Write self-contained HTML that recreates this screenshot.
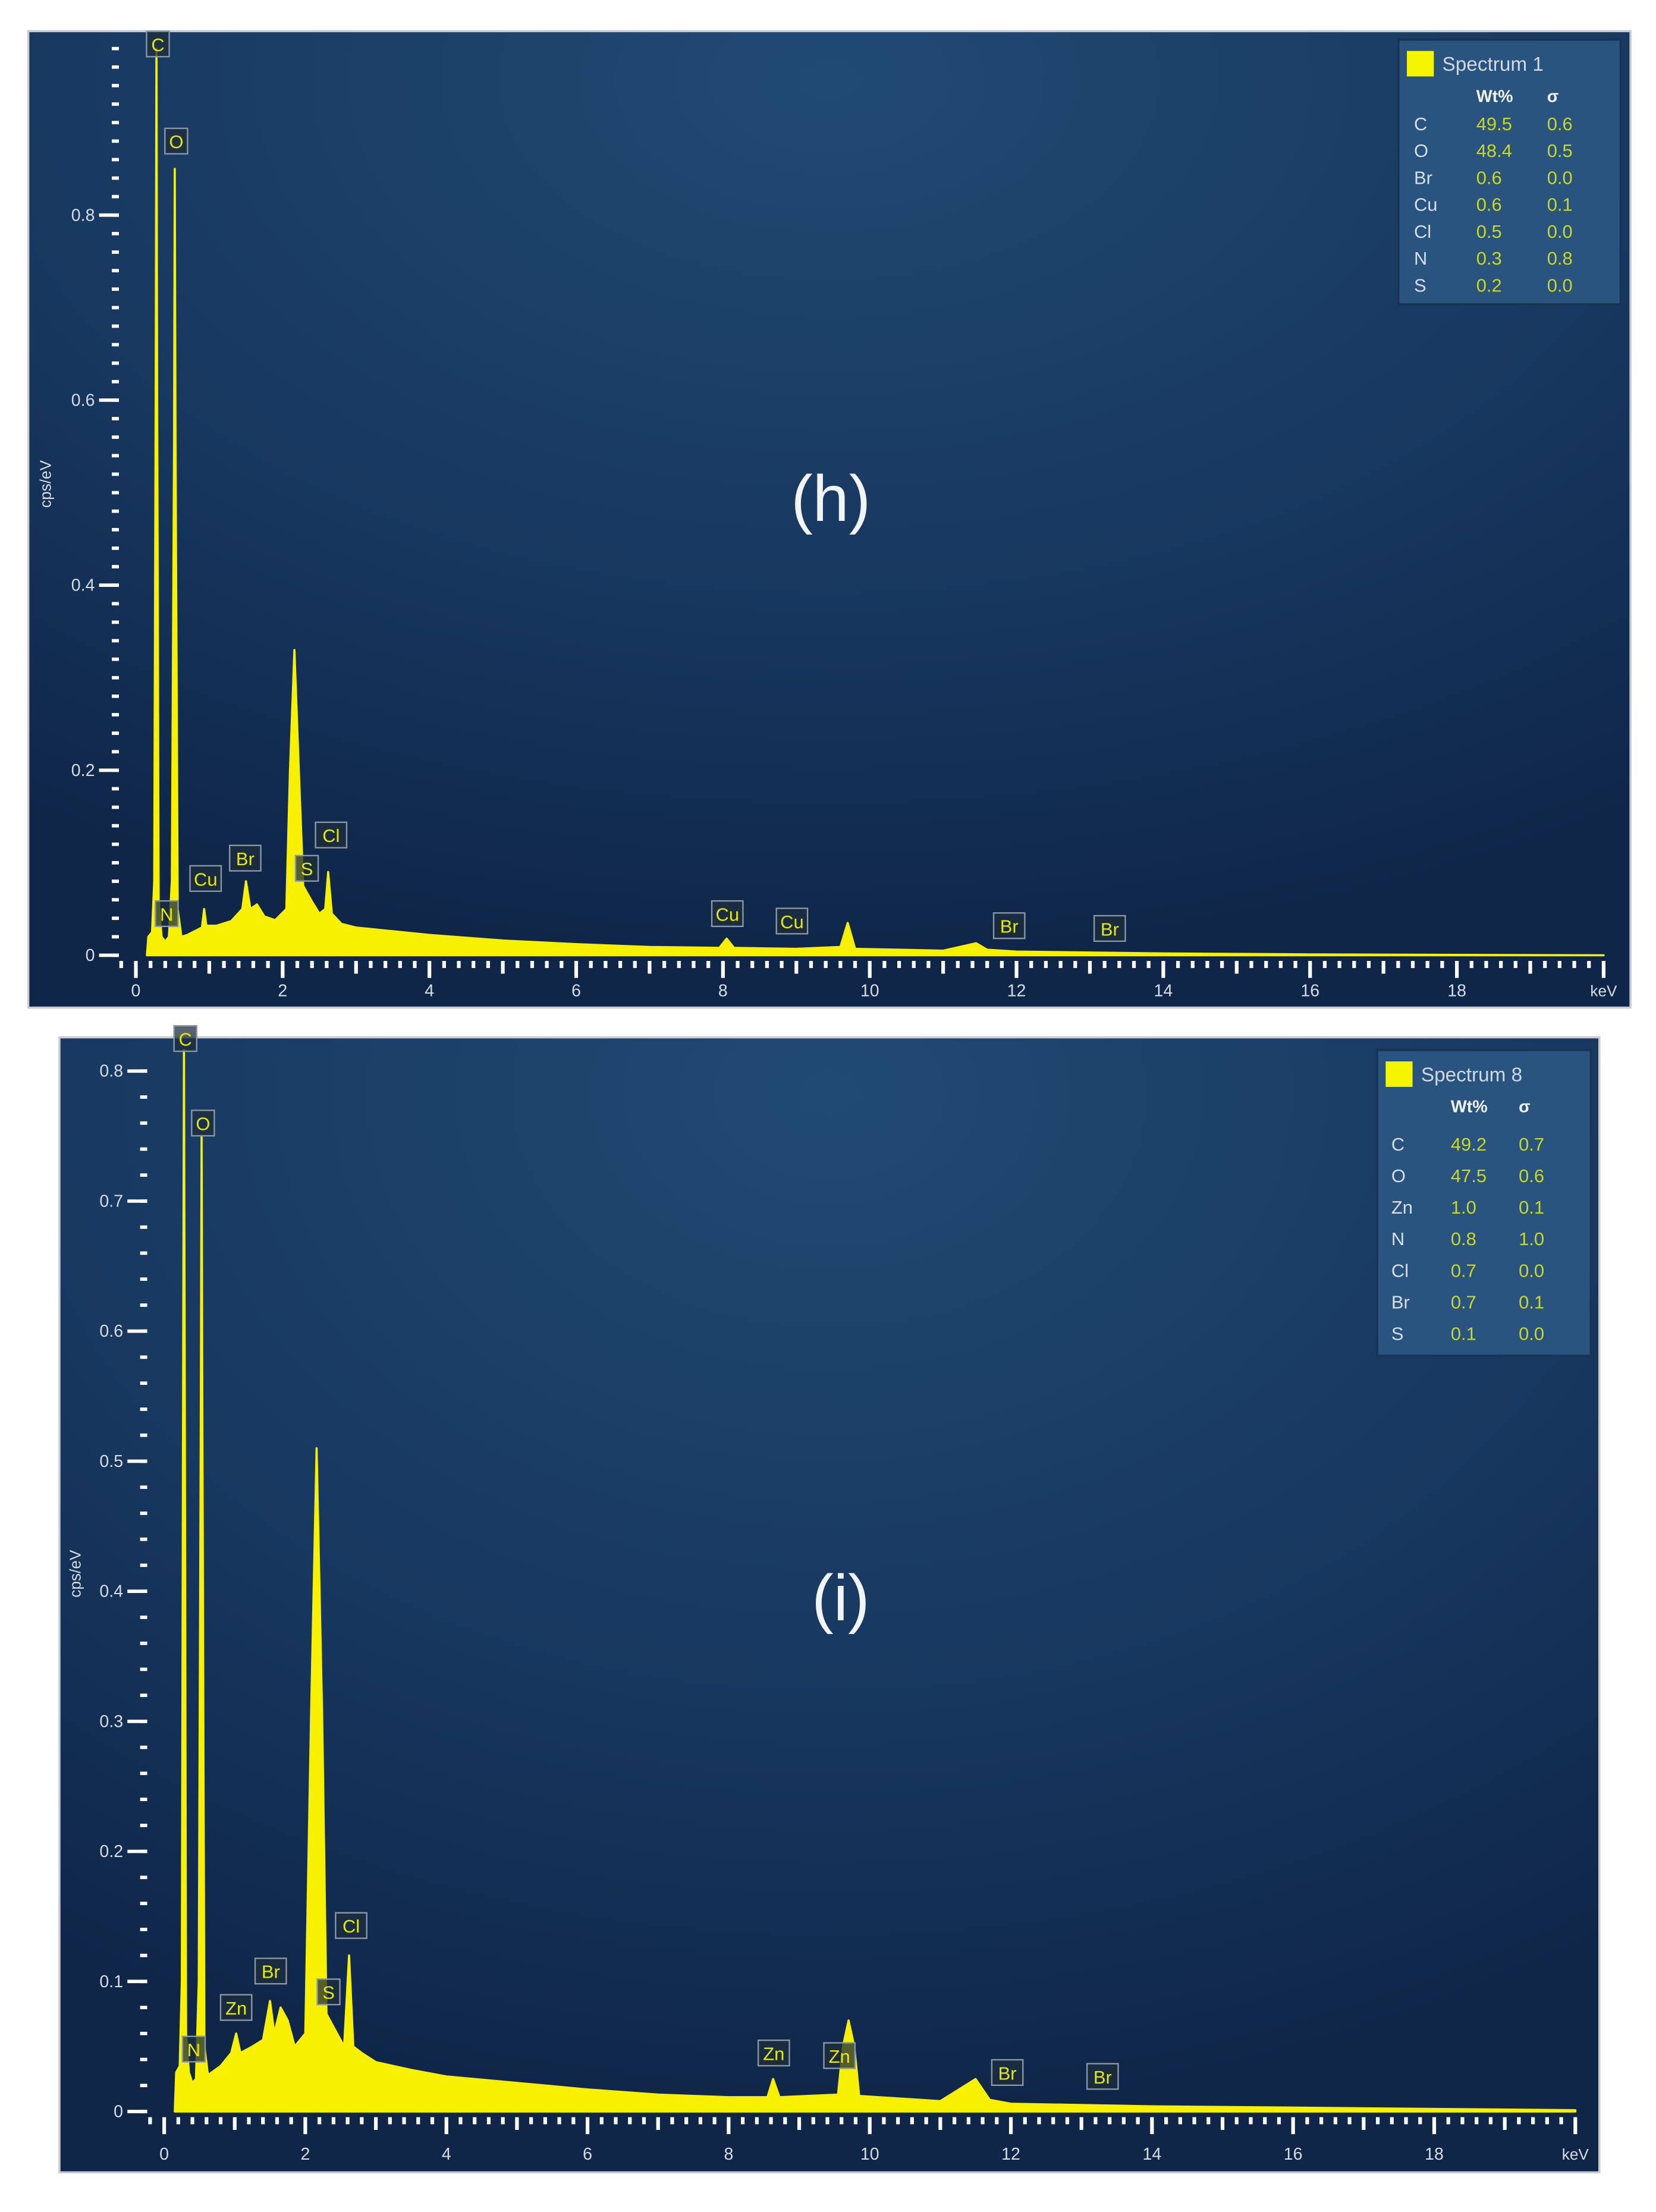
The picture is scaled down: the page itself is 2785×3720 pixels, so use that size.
<!DOCTYPE html>
<html><head><meta charset="utf-8"><style>
html,body{margin:0;padding:0;background:#fff;}
svg{display:block;font-family:"Liberation Sans",sans-serif;}
</style></head><body>
<svg id="root" width="2785" height="3720" viewBox="0 0 1170 1563" preserveAspectRatio="none">
<defs>
<radialGradient id="bg" cx="0.5" cy="0.05" r="0.9">
<stop offset="0" stop-color="#214a72"/><stop offset="0.6" stop-color="#17375f"/><stop offset="1" stop-color="#0f2649"/>
</radialGradient>
</defs>
</svg>
<script>
// Panel h data (keV, cps/eV)
const energyH=[0.15,0.17,0.22,0.25,0.27,0.28,0.29,0.31,0.35,0.4,0.45,0.49,0.52,0.53,0.54,0.57,0.62,0.7,0.8,0.9,0.93,0.96,1.1,1.3,1.45,1.5,1.56,1.65,1.75,1.9,2.05,2.1,2.16,2.22,2.28,2.4,2.5,2.58,2.62,2.67,2.8,3,3.5,4,5,6,7,7.95,8.05,8.15,9,9.6,9.7,9.8,11,11.45,11.6,12,14,16,20];
const cpsH=[0,0.02,0.025,0.08,0.6,0.98,0.6,0.06,0.02,0.015,0.02,0.08,0.55,0.85,0.55,0.05,0.02,0.022,0.026,0.03,0.05,0.032,0.032,0.037,0.05,0.08,0.05,0.055,0.042,0.038,0.05,0.2,0.33,0.2,0.075,0.058,0.045,0.05,0.09,0.045,0.034,0.03,0.026,0.022,0.016,0.012,0.009,0.008,0.018,0.008,0.007,0.009,0.035,0.007,0.005,0.013,0.006,0.004,0.002,0.001,0];
const yTicksH=[0,0.2,0.4,0.6,0.8];
const yLabelsH=["0","0.2","0.4","0.6","0.8"];
const peakNamesH=["C","O","N","Cu","Br","S","Cl","Cu","Cu","Br","Br"];
const peakKeVH=[0.3,0.55,0.42,0.95,1.49,2.33,2.66,8.06,8.94,11.9,13.27];
const peakValH=[0.985,0.88,0.045,0.083,0.105,0.094,0.13,0.045,0.037,0.032,0.029];
const legendElH=["C","O","Br","Cu","Cl","N","S"];
const legendWtH=["49.5","48.4","0.6","0.6","0.5","0.3","0.2"];
const legendSigH=["0.6","0.5","0.0","0.1","0.0","0.8","0.0"];
// Panel i data
const energyI=[0.15,0.17,0.22,0.25,0.27,0.28,0.29,0.31,0.35,0.4,0.45,0.49,0.52,0.53,0.54,0.57,0.62,0.8,0.95,1.02,1.08,1.25,1.4,1.5,1.56,1.65,1.75,1.85,2.0,2.08,2.16,2.24,2.3,2.4,2.55,2.62,2.68,2.8,3,3.5,4,5,6,7,8,8.55,8.63,8.72,9.55,9.62,9.7,9.78,9.85,11,11.5,11.7,12,14,16,18,20];
const cpsI=[0,0.03,0.035,0.1,0.6,0.82,0.6,0.06,0.03,0.022,0.025,0.1,0.55,0.75,0.55,0.05,0.028,0.035,0.045,0.06,0.045,0.05,0.055,0.085,0.06,0.08,0.07,0.05,0.06,0.3,0.51,0.3,0.075,0.065,0.05,0.12,0.05,0.045,0.038,0.032,0.027,0.022,0.017,0.013,0.011,0.011,0.025,0.011,0.013,0.05,0.07,0.05,0.012,0.008,0.025,0.009,0.006,0.004,0.003,0.002,0.001];
const yTicksI=[0,0.1,0.2,0.3,0.4,0.5,0.6,0.7,0.8];
const yLabelsI=["0","0.1","0.2","0.3","0.4","0.5","0.6","0.7","0.8"];
const peakNamesI=["C","O","N","Zn","Br","S","Cl","Zn","Zn","Br","Br"];
const peakKeVI=[0.3,0.55,0.42,1.02,1.51,2.33,2.65,8.64,9.57,11.95,13.3];
const peakValI=[0.825,0.76,0.048,0.08,0.108,0.092,0.143,0.045,0.043,0.03,0.027];
const legendElI=["C","O","Zn","N","Cl","Br","S"];
const legendWtI=["49.2","47.5","1.0","0.8","0.7","0.7","0.1"];
const legendSigI=["0.7","0.6","0.1","1.0","0.0","0.1","0.0"];
const xTicks=[0,2,4,6,8,10,12,14,16,18];

const NS="http://www.w3.org/2000/svg";
const root=document.getElementById('root');
function mk(tag,attrs,parent,text){const e=document.createElementNS(NS,tag);for(const k in attrs)e.setAttribute(k,attrs[k]);if(text!==undefined)e.textContent=text;(parent||root).appendChild(e);return e;}

function panel(cfg){
  const g=mk('g',{});
  
  
  const bg=mk('rect',{x:cfg.bx,y:cfg.by,width:cfg.bw,height:cfg.bh,fill:'url(#bg)',stroke:'#c8ccd2','stroke-width':1.5},g);
  
  
  const sx=v=>cfg.x0+v*cfg.kx, sy=v=>cfg.y0-v*cfg.ky;
  const ymaxV=(cfg.y0-cfg.ytop)/cfg.ky;
  for(let v=0;v<=ymaxV+1e-9;v+=0.02){
    const t=mk('line',{x1:cfg.yax-7,x2:cfg.yax-2,y1:sy(v),y2:sy(v),stroke:'#fff','stroke-width':2.4},g);
    
    
  }
  cfg.yt.forEach((v,i)=>{
    const t=mk('line',{x1:cfg.yax-16,x2:cfg.yax-2,y1:sy(v),y2:sy(v),stroke:'#fff','stroke-width':2.4},g);
    
    
    const l=mk('text',{x:cfg.yax-19,y:sy(v)+4,'text-anchor':'end','font-size':12,fill:'#d8dde4'},g,cfg.yl[i]);
    
    
  });
  const yt=mk('text',{x:0,y:0,'font-size':11,fill:'#d8dde4','text-anchor':'middle',transform:`translate(${cfg.ylx},${cfg.yly}) rotate(-90)`},g,'cps/eV');
  
  
  for(let k=-1;k<=100;k++){
    const v=k*0.2;const x=sx(v);
    const major=k%10===0, mid=k%5===0;
    const t=mk('line',{x1:x,x2:x,y1:cfg.xay,y2:cfg.xay+(major?12:mid?9:5),stroke:'#fff','stroke-width':2.6},g);
    
    
  }
  xTicks.forEach(v=>{
    const l=mk('text',{x:sx(v),y:cfg.xly,'text-anchor':'middle','font-size':12,fill:'#d8dde4'},g,String(v));
    
    
  });
  const ku=mk('text',{x:sx(20),y:cfg.xly,'text-anchor':'middle','font-size':11,fill:'#d8dde4'},g,'keV');
  
  
  let d=`M${sx(cfg.e[0])},${sy(0)}`;
  cfg.c.forEach((v,i)=>{d+=` L${sx(cfg.e[i]).toFixed(2)},${sy(Math.min(v,ymaxV)).toFixed(2)}`;});
  d+=` L${sx(cfg.e[cfg.e.length-1])},${sy(0)} Z`;
  const p=mk('path',{d:d,fill:'#f7f000',stroke:'#f7f000','stroke-width':1.5,'stroke-linejoin':'round'},g);
  
  
  cfg.pn.forEach((n,i)=>{
    const x=sx(cfg.pk[i]), y=sy(cfg.pv[i]);
    const w=n.length>1?22:16;
    const lg=mk('g',{},g);
    
    
    mk('rect',{x:x-w/2,y:y-9,width:w,height:18,fill:'rgba(30,45,60,0.75)',stroke:'#8a97a4','stroke-width':1},lg);
    mk('text',{x:x,y:y+5,'text-anchor':'middle','font-size':13,fill:'#e8e800'},lg,n);
  });
  const L=cfg.lg;
  const lgg=mk('g',{},g);
  
  
  mk('rect',{x:L.x,y:L.y,width:L.w,height:L.h,fill:'#2a5480',stroke:'#1a3350','stroke-width':1.5},lgg);
  const sw=mk('rect',{x:L.x+6,y:L.y+8,width:19,height:18,fill:'#f5f500'},lgg);
  
  
  mk('text',{x:L.x+31,y:L.y+22,'font-size':14,fill:'#d0d8e2'},lgg,cfg.title);
  mk('text',{x:L.wx,y:L.y+44,'font-size':12,'font-weight':'bold',fill:'#eef2f6'},lgg,'Wt%');
  mk('text',{x:L.sx,y:L.y+44,'font-size':12,'font-weight':'bold',fill:'#eef2f6'},lgg,'σ');
  cfg.le.forEach((el,i)=>{
    const ry=L.r0+i*L.step;
    const e=mk('text',{x:L.ex,y:ry,'font-size':13,fill:'#d8dee6'},lgg,el);
    
    
    mk('text',{x:L.wx,y:ry,'font-size':13,fill:'#c8d820'},lgg,cfg.lw[i]);
    mk('text',{x:L.sx,y:ry,'font-size':13,fill:'#c8d820'},lgg,cfg.ls[i]);
  });
  const pl=mk('text',{x:cfg.lab[0],y:cfg.lab[1],'text-anchor':'middle','font-size':46,fill:'#f2f4f8'},g,cfg.label);
  
  
}

panel({name:'panel-h',bx:20,by:22,bw:1132,bh:690,x0:96,kx:51.85,y0:675,ky:653.75,ytop:30,yax:86,ylx:36,yly:342,xay:679,xly:704,
  e:energyH,c:cpsH,yt:yTicksH,yl:yLabelsH,pn:peakNamesH,pk:peakKeVH,pv:peakValH,le:legendElH,lw:legendWtH,ls:legendSigH,
  title:'Spectrum 1',label:'(h)',lab:[587,368],
  lg:{x:988,y:28,w:157,h:187,ex:999,wx:1043,sx:1093,r0:92,step:19}});
panel({name:'panel-i',bx:42,by:733,bw:1088,bh:802,x0:116,kx:49.85,y0:1492,ky:919,ytop:742,yax:106,ylx:57,yly:1112,xay:1496,xly:1526,
  e:energyI,c:cpsI,yt:yTicksI,yl:yLabelsI,pn:peakNamesI,pk:peakKeVI,pv:peakValI,le:legendElI,lw:legendWtI,ls:legendSigI,
  title:'Spectrum 8',label:'(i)',lab:[594,1145],
  lg:{x:973,y:742,w:151,h:216,ex:983,wx:1025,sx:1073,r0:813,step:22.3}});
</script>
</body></html>
